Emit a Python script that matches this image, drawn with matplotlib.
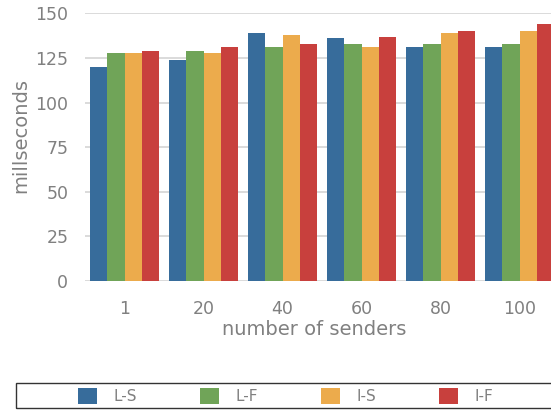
import matplotlib.pyplot as plt
import numpy as np
from matplotlib.patches import Rectangle

plt.rcParams['font.family'] = ['DejaVu Sans']

# number of senders on the x axis
senders = ['1', '20', '40', '60', '80', '100']
series = ['L-S', 'L-F', 'I-S', 'I-F']
ls_ms = [120, 124, 139, 136, 131, 131]
lf_ms = [128, 129, 131, 133, 133, 133]
is_ms = [128, 128, 138, 131, 139, 140]
if_ms = [129, 131, 133, 137, 140, 144]
yticks = [0, 25, 50, 75, 100, 125, 150]

colors = ['#376c9b', '#70a458', '#ecab4c', '#c8403d']
grey = '#808080'

W, H = 551, 411
fig = plt.figure(figsize=(W / 100, H / 100), dpi=100)
ax = fig.add_axes([85 / W, (H - 281) / H, 474 / W, 267.7 / H])

x = np.arange(len(senders))
bw = 0.875 / 4
for i, (name, vals) in enumerate(zip(series, [ls_ms, lf_ms, is_ms, if_ms])):
    ax.bar(x + (i - 1.5) * bw, vals, width=bw, color=colors[i], label=name, zorder=3)

ax.set_xlim(-0.5, len(senders) - 0.5)
ax.set_ylim(0, 150)
ax.set_yticks(yticks)
ax.set_xticks(x)
ax.set_xticklabels(senders)
ax.grid(axis='y', color='#d4d4d4', linewidth=1.2, zorder=0)
for s in ax.spines.values():
    s.set_visible(False)
ax.tick_params(length=0, labelsize=12.5, labelcolor=grey)
ax.tick_params(axis='y', pad=12)
ax.tick_params(axis='x', pad=14)
ax.set_ylabel('millseconds', fontsize=14, color=grey, labelpad=4)
ax.yaxis.label.set_y(0.545)
ax.set_xlabel('number of senders', fontsize=14, color=grey, labelpad=1)
ax.xaxis.label.set_x(0.484)

# legend strip along the bottom
fig.patches.append(Rectangle((16 / W, (H - 407.5) / H), 545 / W, 24.5 / H,
                             transform=fig.transFigure, fill=False,
                             edgecolor='#333333', linewidth=1))
handles, labels = ax.get_legend_handles_labels()
fig.legend(handles, labels, ncol=4, frameon=False, loc='center',
           bbox_to_anchor=(285.5 / W, (H - 396) / H), fontsize=11,
           handlelength=1.24, handleheight=1.3, handletextpad=1.1,
           columnspacing=4.1, labelcolor=grey)

fig.savefig('out.png', dpi=100)
